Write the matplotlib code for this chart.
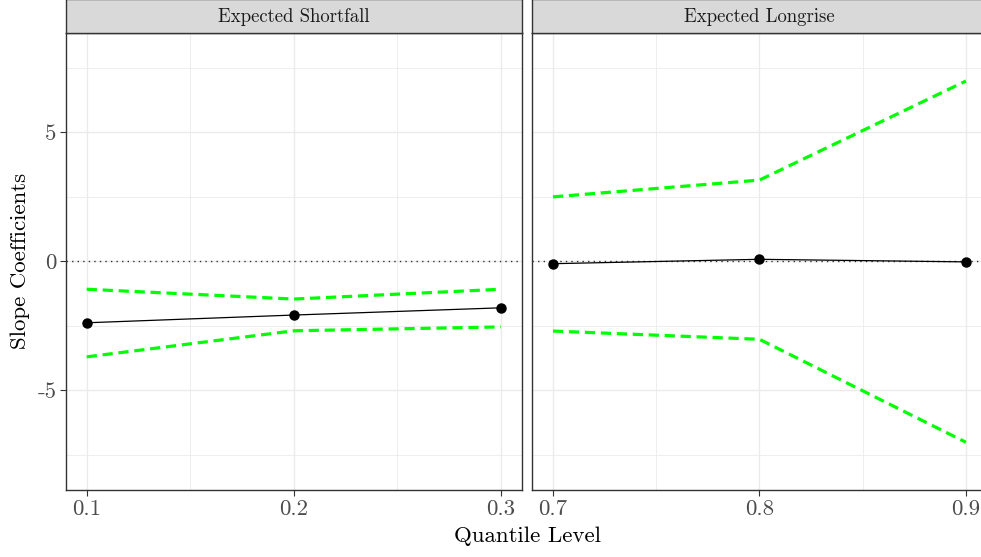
import numpy as np
import matplotlib
matplotlib.use("Agg")
from matplotlib import pyplot as plt

plt.rcParams['font.family'] = ['cmr10', 'DejaVu Serif']
plt.rcParams['axes.unicode_minus'] = False
plt.rcParams['mathtext.fontset'] = 'cm'

# data
panels = ["Expected Shortfall", "Expected Longrise"]
q_es = [0.1, 0.2, 0.3]
coef_es = [-2.39, -2.09, -1.81]
upper_es = [-1.09, -1.47, -1.09]
lower_es = [-3.71, -2.70, -2.55]

q_el = [0.7, 0.8, 0.9]
coef_el = [-0.10, 0.07, -0.03]
upper_el = [2.49, 3.14, 6.98]
lower_el = [-2.71, -3.03, -7.02]

W, H = 981, 557
fig = plt.figure(figsize=(W / 100, H / 100), dpi=100)

border = "#333333"
grid = "#EBEBEB"


def px(x0, y0, x1, y1):
    # pixel box (top-left origin) -> figure fraction rect
    return [x0 / W, 1 - y1 / H, (x1 - x0) / W, (y1 - y0) / H]


def panel(rect, strip_rect, q, coef, up, lo, title, xticks, ylabels):
    ax = fig.add_axes(rect)
    ax.set_xlim(q[0] - 0.01, q[-1] + 0.01)
    ax.set_ylim(-8.87, 8.84)
    ax.set_xticks(xticks)
    ax.set_xticks([(xticks[0] + xticks[1]) / 2, (xticks[1] + xticks[2]) / 2], minor=True)
    ax.set_yticks([-5, 0, 5])
    ax.set_yticks([-7.5, -2.5, 2.5, 7.5], minor=True)
    ax.grid(True, which="major", color=grid, lw=1.0, zorder=0)
    ax.grid(True, which="minor", color=grid, lw=0.6, zorder=0)
    ax.set_axisbelow(True)
    for s in ax.spines.values():
        s.set_color(border)
        s.set_linewidth(1.0)
    ax.tick_params(which="minor", length=0)
    ax.tick_params(which="major", length=4, color=border, width=0.8,
                   labelsize=16.5, labelcolor="#4D4D4D", pad=3)
    ax.set_xticklabels(["%.1f" % t for t in xticks])
    if ylabels:
        ax.set_yticklabels(["-5", "0", "5"])
    else:
        ax.tick_params(axis="y", length=0, labelleft=False)

    ax.axhline(0, color="#333333", lw=1.0, ls=(0, (1, 3)), zorder=2)
    ax.plot(q, up, color="#00FF00", lw=2.3, ls=(0, (3.2, 1.8)), zorder=3)
    ax.plot(q, lo, color="#00FF00", lw=2.3, ls=(0, (3.2, 1.8)), zorder=3)
    ax.plot(q, coef, color="black", lw=0.9, marker="o", ms=6.5, zorder=4)

    sx = fig.add_axes(strip_rect)
    sx.set_facecolor("#D9D9D9")
    sx.set_xticks([])
    sx.set_yticks([])
    for s in sx.spines.values():
        s.set_color(border)
        s.set_linewidth(1.0)
    sx.text(0.5, 0.5 * 33 / 34, title, ha="center", va="center",
            fontsize=13.5, color="#1A1A1A", transform=sx.transAxes)
    return ax


ax1 = panel(px(66, 33, 521.6, 490), px(66, -1, 521.6, 33), q_es, coef_es,
            upper_es, lower_es, panels[0], [0.1, 0.2, 0.3], True)
ax2 = panel(px(532.3, 33, 986.6, 490), px(532.3, -1, 986.6, 33), q_el, coef_el,
            upper_el, lower_el, panels[1], [0.7, 0.8, 0.9], False)

fig.text(527 / W, 1 - 536 / H, "Quantile Level", ha="center", va="center",
         fontsize=16.5, color="black")
fig.text(20 / W, 1 - 261 / H, "Slope Coefficients", ha="center", va="center",
         rotation=90, fontsize=16.5, color="black")

fig.savefig("out.png", dpi=100)
